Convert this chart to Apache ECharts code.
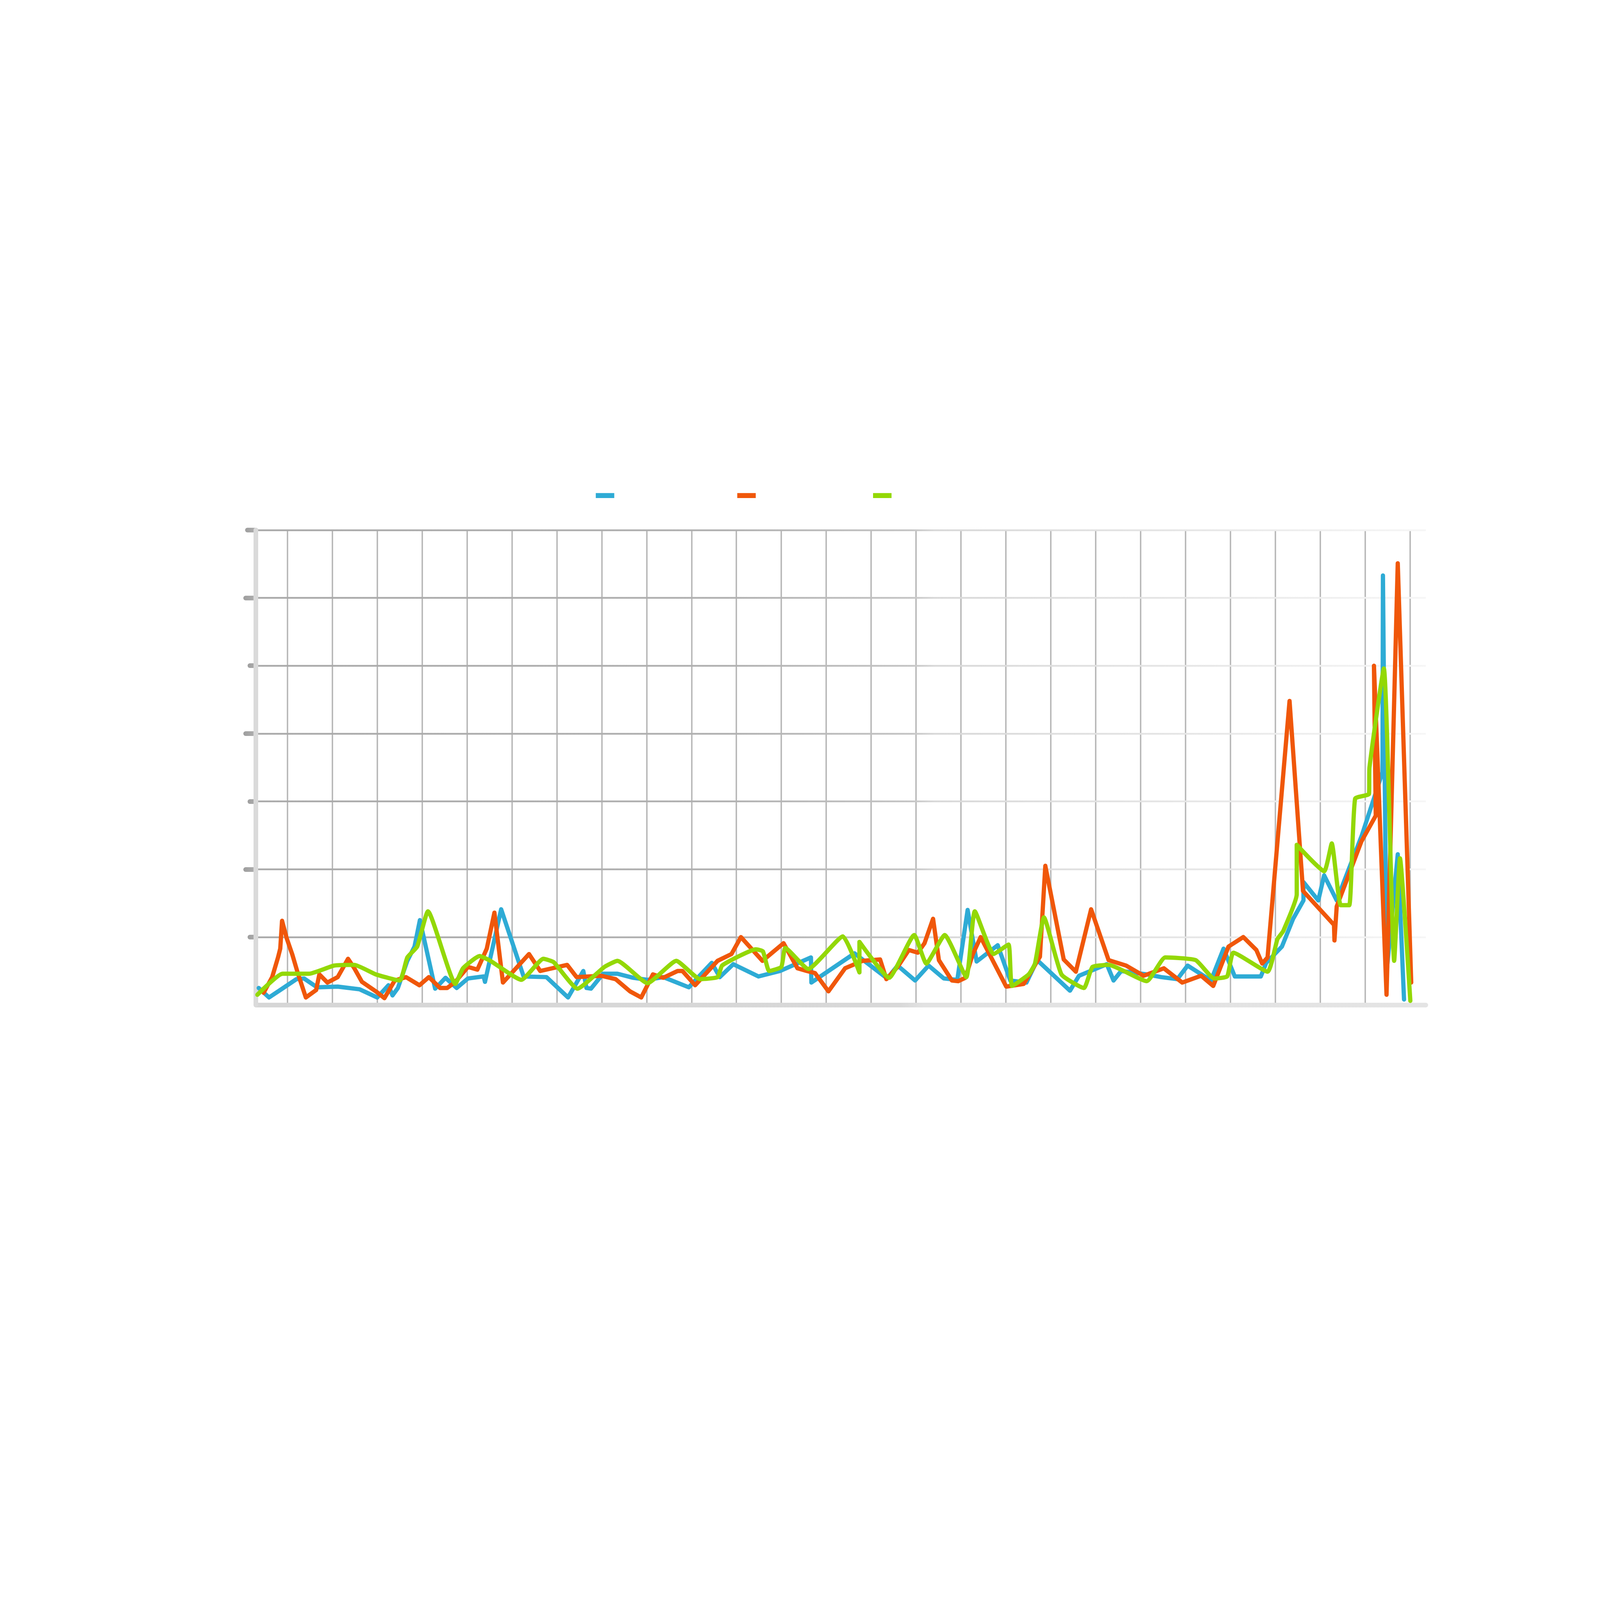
<!DOCTYPE html>
<html>
<head>
	<meta charset="utf-8">
	<title>three series over time</title>
	<script src="https://cdn.jsdelivr.net/npm/echarts@6/dist/echarts.min.js"></script>
	<style>
		html, body { margin: 0; padding: 0; overflow: hidden; background: #fff; }
		#main { width: 100vw; height: 100vh; }
	</style>
</head>
<body>
	<div id="main"></div>
	<script type="text/javascript">
		// series names (no visible text in the picture)
		var names = ['Series 1', 'Series 2', 'Series 3'];
		var colors = ['#2eabd5', '#f0570a', '#93d806'];

		// x = position in periods (gridline every 1), y = value (gridline every 100)
		var blueX = [0.36,0.59,0.84,1.20,1.37,1.66,2.12,2.61,3.00,3.25,3.34,3.46,3.67,3.83,3.95,4.29,4.52,4.77,5.02,5.37,
			5.40,5.76,6.26,6.77,7.25,7.59,7.66,7.76,8.03,8.35,8.70,9.02,9.37,9.94,10.15,10.45,10.63,10.93,11.49,11.97,
			12.66,12.67,13.63,14.36,14.59,14.98,15.28,15.62,15.92,16.15,16.35,16.82,17.10,17.46,17.70,18.43,18.63,19.25,19.40,19.57,
			20.14,20.46,20.82,21.05,21.57,21.85,22.10,22.68,22.80,23.15,23.40,23.63,23.63,23.96,24.09,24.37,24.93,25.39,25.40,25.48,
			25.73,25.87];
		var blueY = [25,11,22,38,39,26,27,23,11,29,14,25,65,86,125,24,40,25,39,42,
			34,141,42,41,11,50,25,24,46,46,40,37,41,26,41,62,41,60,42,50,
			70,33,76,39,58,36,58,39,37,140,64,88,36,33,66,21,43,60,36,50,
			45,41,38,58,36,83,42,42,62,86,127,154,181,154,191,154,250,343,633,47,
			222,8];

		var orangeX = [0.47,0.66,0.79,0.84,0.88,0.98,1.11,1.23,1.41,1.64,1.71,1.89,2.12,2.35,2.49,2.66,2.97,3.16,3.39,3.64,
			3.94,4.15,4.40,4.56,4.74,5.02,5.23,5.44,5.61,5.80,6.38,6.63,7.23,7.44,7.99,8.31,8.63,8.88,9.14,9.37,
			9.69,9.80,10.08,10.58,10.89,11.10,11.58,12.05,12.36,12.57,12.75,13.05,13.42,13.81,14.20,14.34,14.59,14.84,15.04,15.19,
			15.38,15.51,15.80,15.94,16.10,16.26,16.44,17.01,17.40,17.76,17.88,18.29,18.56,18.90,19.29,19.68,20.07,20.52,20.93,21.35,
			21.62,21.96,22.29,22.58,22.71,22.83,23.32,23.62,24.31,24.32,24.37,24.92,25.24,25.20,25.48,25.73,26.03];
		var orangeY = [18,41,70,83,124,99,74,47,11,22,45,33,41,68,54,34,20,10,36,41,
			29,41,25,25,34,56,52,83,136,33,75,50,59,41,43,38,20,11,45,40,
			50,50,29,65,75,100,65,91,54,50,47,20,54,65,67,38,56,81,77,91,
			127,66,36,35,40,74,100,27,31,71,205,67,49,141,66,58,43,54,33,43,
			28,86,100,81,61,70,448,168,118,95,145,241,279,500,15,651,33];

		var greenX = [0.33,0.89,1.48,2.04,2.49,2.97,3.50,3.67,3.89,4.13,4.74,4.91,5.28,5.52,6.21,6.70,6.93,7.46,8.06,8.35,
			9.02,9.66,10.19,10.58,10.68,11.06,11.43,11.59,11.73,12.00,12.09,12.60,13.37,13.74,13.74,14.40,14.96,15.23,15.64,16.12,
			16.31,16.73,17.06,17.14,17.51,17.65,17.85,18.24,18.74,18.93,19.29,20.14,20.55,21.23,21.64,21.93,22.07,22.83,23.05,23.18,
			23.48,23.48,24.09,24.26,24.46,24.65,24.78,25.09,25.10,25.42,25.65,25.78,26.01];
		var greenY = [15,46,46,58,59,45,36,70,86,138,31,54,72,65,37,68,63,24,56,65,
			32,65,38,41,58,72,82,79,50,56,84,53,101,48,93,40,103,61,103,41,
			138,75,89,28,45,61,129,45,25,56,59,35,70,66,39,42,77,49,97,109,
			163,236,197,238,147,147,304,311,350,496,65,216,6];

		var yMax = 700;
		var xMax = 26.355;
		var shortTicks = [100, 300, 500];
		var longTicks = [200, 400, 600];
		var topTicks = [700];

		function pairs(xs, ys) {
			var out = [];
			for (var i = 0; i < xs.length; i++) out.push([xs[i], ys[i]]);
			return out;
		}

		var dom = document.getElementById('main');
		var myChart = echarts.init(dom);
		// layout was measured on a 4501 px wide picture, scale to whatever we really get
		var s = dom.clientWidth / 4501;
		function px(v) { return v * s; }

		// horizontal gridlines fade out to the right
		var fadeGrey = new echarts.graphic.LinearGradient(0, 0, 1, 0, [
			{offset: 0, color: '#a9a9a9'},
			{offset: 0.4, color: '#b0b0b0'},
			{offset: 0.56, color: '#c4c4c4'},
			{offset: 0.58, color: '#d8d8d8'},
			{offset: 0.8, color: '#e6e6e6'},
			{offset: 1, color: '#f6f6f6'}
		]);
		var baseGrey = new echarts.graphic.LinearGradient(0, 0, 1, 0, [
			{offset: 0, color: '#d6d6d6'},
			{offset: 0.55, color: '#d8d8d8'},
			{offset: 0.57, color: '#e2e2e2'},
			{offset: 1, color: '#e4e4e4'}
		]);
		var tickGrey = new echarts.graphic.LinearGradient(0, 0, 1, 0, [
			{offset: 0, color: '#9e9e9e'},
			{offset: 0.6, color: '#aaaaaa'},
			{offset: 1, color: '#cfcfcf'}
		]);

		function legendAt(i, left) {
			return {
				data: [names[i]],
				left: px(left),
				top: px(1387),
				padding: 0,
				icon: 'rect',
				itemWidth: px(52),
				itemHeight: px(14),
				selectedMode: false,
				formatter: function () { return ''; }
			};
		}

		var hidden = {show: false};

		// extra left axes only used for the different tick lengths
		function tickAxis(values, len) {
			return {
				gridIndex: 1, type: 'value', position: 'left', min: 0, max: yMax, interval: 100,
				axisLine: hidden,
				axisTick: {show: true, length: px(len), customValues: values,
					lineStyle: {color: tickGrey, width: px(13), cap: 'round'}},
				axisLabel: hidden, splitLine: hidden, z: 1
			};
		}

		function lineSeries(i, xs, ys, smooth) {
			return {
				name: names[i], type: 'line', xAxisIndex: 0, yAxisIndex: 0,
				data: pairs(xs, ys), symbol: 'none', smooth: smooth,
				lineStyle: {width: px(12), join: 'round', cap: 'round'}
			};
		}

		var option = {
			animation: false,
			backgroundColor: '#fff',
			color: colors,
			legend: [legendAt(0, 1676), legendAt(1, 2074), legendAt(2, 2456)],
			grid: [
				// data grid: starts a little left of the drawn axis so gridlines fall on whole periods
				{left: px(682.3), right: px(490), top: px(1491), bottom: px(1674)},
				// frame grid: axis lines, ticks and horizontal gridlines
				{left: px(720), right: px(490), top: px(1491), bottom: px(1674)}
			],
			xAxis: [
				{
					gridIndex: 0, type: 'value', min: 0, max: xMax, interval: 1,
					axisLine: hidden, axisTick: hidden, axisLabel: hidden,
					splitLine: {show: true, showMinLine: false, showMaxLine: false,
						lineStyle: {color: '#b7b7b7', width: px(4)}}
				},
				{
					gridIndex: 1, type: 'value', min: 0, max: 1,
					axisLine: {show: true, onZero: false, lineStyle: {color: baseGrey, width: px(13)}},
					axisTick: hidden, axisLabel: hidden, splitLine: hidden
				}
			],
			yAxis: [
				{
					gridIndex: 0, type: 'value', position: 'left', min: 0, max: yMax, interval: 100,
					axisLine: hidden, axisTick: hidden, axisLabel: hidden, splitLine: hidden
				},
				tickAxis(shortTicks, 17),
				tickAxis(longTicks, 29),
				tickAxis(topTicks, 24),
				{
					gridIndex: 1, type: 'value', position: 'left', min: 0, max: yMax, interval: 100,
					axisLine: {show: true, onZero: false, lineStyle: {color: '#dadada', width: px(13)}},
					axisTick: hidden,
					axisLabel: hidden,
					splitLine: {show: true, showMinLine: false, lineStyle: {color: fadeGrey, width: px(5)}},
					z: 2
				}
			],
			series: [
				lineSeries(0, blueX, blueY, false),
				lineSeries(1, orangeX, orangeY, false),
				lineSeries(2, greenX, greenY, 0.15)
			]
		};
		myChart.setOption(option);
	</script>
</body>
</html>
